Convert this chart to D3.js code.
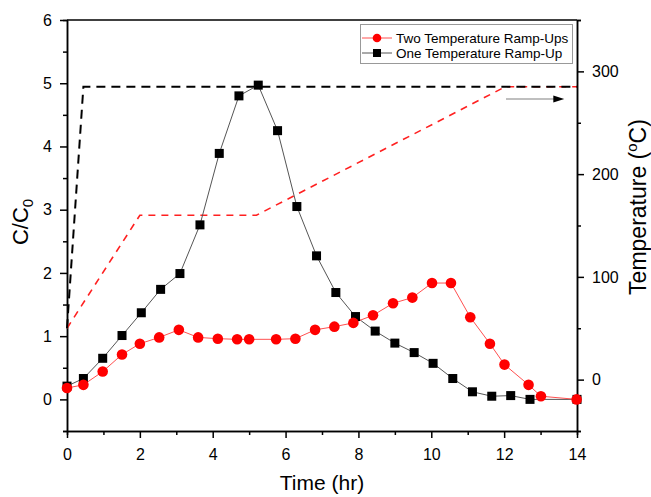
<!DOCTYPE html>
<html>
<head>
<meta charset="utf-8">
<script src="https://cdn.jsdelivr.net/npm/d3@7"></script>
<style>
body { margin: 0; background: #fff; }
svg { display: block; font-family: "Liberation Sans", Arial, sans-serif; }
</style>
</head>
<body>
<svg id="chart" width="651" height="497"></svg>
<script>
// Data
const twoRampTime = [0, 0.45, 0.98, 1.51, 2.0, 2.53, 3.07, 3.6, 4.14, 4.67, 5.0, 5.74, 6.27, 6.81, 7.34, 7.86, 8.4, 8.95, 9.48, 10.02, 10.54, 11.07, 11.61, 12.01, 12.67, 13.01, 13.99];
const twoRampC = [0.18, 0.23, 0.44, 0.71, 0.88, 0.98, 1.10, 0.98, 0.96, 0.95, 0.95, 0.95, 0.96, 1.10, 1.15, 1.21, 1.33, 1.52, 1.61, 1.84, 1.84, 1.30, 0.88, 0.55, 0.23, 0.05, 0.0];
const oneRampTime = [0, 0.45, 0.98, 1.51, 2.04, 2.57, 3.10, 3.65, 4.18, 4.72, 5.25, 5.78, 6.31, 6.85, 7.38, 7.92, 8.46, 9.0, 9.53, 10.05, 10.59, 11.13, 11.66, 12.18, 12.71, 14.0];
const oneRampC = [0.21, 0.33, 0.65, 1.01, 1.37, 1.74, 1.99, 2.76, 3.89, 4.80, 4.97, 4.25, 3.05, 2.27, 1.69, 1.31, 1.08, 0.89, 0.74, 0.57, 0.33, 0.12, 0.05, 0.06, 0.0, 0.0];
const twoRampTempTime = [0, 2.0, 5.2, 12.03, 14];
const twoRampTemp = [50, 160, 160, 285, 285];
const oneRampTempTime = [0, 0.45, 14];
const oneRampTemp = [50, 285, 285];
const xTicks = [0, 2, 4, 6, 8, 10, 12, 14];
const yTicks = [0, 1, 2, 3, 4, 5, 6];
const y2Ticks = [0, 100, 200, 300];
const seriesNames = ["Two Temperature Ramp-Ups", "One Temperature Ramp-Up"];

const svg = d3.select("#chart");
const L = 67, R = 577, T = 20, B = 431;

const x = d3.scaleLinear().domain([0, 14]).range([L, R]);
const y = d3.scaleLinear().domain([-0.5, 6]).range([B, T]);
const y2 = d3.scaleLinear().domain([-50, 350]).range([B, T]);

// Frame top
svg.append("line").attr("x1", L).attr("x2", R).attr("y1", T).attr("y2", T)
  .attr("stroke", "#000").attr("stroke-width", 1.5);

function styleAxis(g) {
  g.selectAll("path.domain").attr("stroke", "#000").attr("stroke-width", 1.5);
  g.selectAll(".tick line").attr("stroke", "#000").attr("stroke-width", 1.5);
  g.selectAll("text").attr("font-size", "16px").attr("fill", "#000").attr("font-family", "Liberation Sans, Arial, sans-serif");
}
const gxMinor = svg.append("g").attr("transform", `translate(0,${B})`)
  .call(d3.axisBottom(x).tickValues(d3.range(1, 14, 2)).tickSize(4).tickFormat(""));
styleAxis(gxMinor);
const gx = svg.append("g").attr("transform", `translate(0,${B})`)
  .call(d3.axisBottom(x).tickValues(xTicks).tickSize(7).tickSizeOuter(0).tickPadding(11).tickFormat(d3.format("d")));
styleAxis(gx);

const gyMinor = svg.append("g").attr("transform", `translate(${L},0)`)
  .call(d3.axisLeft(y).tickValues([-0.5, 0.5, 1.5, 2.5, 3.5, 4.5, 5.5]).tickSize(4).tickFormat(""));
styleAxis(gyMinor);
const gy = svg.append("g").attr("transform", `translate(${L},0)`)
  .call(d3.axisLeft(y).tickValues(yTicks).tickSize(7).tickSizeOuter(0).tickPadding(8).tickFormat(d3.format("d")));
styleAxis(gy);

const gy2Minor = svg.append("g").attr("transform", `translate(${R},0)`)
  .call(d3.axisRight(y2).tickValues([-50, 50, 150, 250, 350]).tickSize(4).tickFormat(""));
styleAxis(gy2Minor);
const gy2 = svg.append("g").attr("transform", `translate(${R},0)`)
  .call(d3.axisRight(y2).tickValues(y2Ticks).tickSize(7).tickSizeOuter(0).tickPadding(8).tickFormat(d3.format("d")));
styleAxis(gy2);

// Axis titles
svg.append("text").attr("x", (L + R) / 2).attr("y", 490).attr("text-anchor", "middle")
  .attr("font-size", "21px").text("Time (hr)");
const ct = svg.append("text").attr("transform", "translate(28,222) rotate(-90)")
  .attr("text-anchor", "middle").attr("font-size", "22px");
ct.append("tspan").text("C/C");
ct.append("tspan").attr("font-size", "15px").attr("dy", 5).text("0");
const tt = svg.append("text").attr("transform", "translate(646,207) rotate(-90)")
  .attr("text-anchor", "middle").attr("font-size", "23px");
tt.append("tspan").text("Temperature (");
tt.append("tspan").attr("font-size", "15px").attr("dy", -9).text("o");
tt.append("tspan").attr("dy", 9).text("C)");

// Temperature dashed lines
const tempLine = d3.line().x(d => x(d[0])).y(d => y2(d[1]));
svg.append("path").datum(d3.zip(twoRampTempTime, twoRampTemp)).attr("d", tempLine)
  .attr("fill", "none").attr("stroke", "#ff2020").attr("stroke-width", 1.6).attr("stroke-dasharray", "7,6");
svg.append("path").datum(d3.zip(oneRampTempTime, oneRampTemp)).attr("d", tempLine)
  .attr("fill", "none").attr("stroke", "#000").attr("stroke-width", 2).attr("stroke-dasharray", "9,6");

// Arrow pointing to right axis
svg.append("line").attr("x1", x(12.05)).attr("x2", x(13.45)).attr("y1", y2(273)).attr("y2", y2(273))
  .attr("stroke", "#aaa").attr("stroke-width", 1.5);
svg.append("path")
  .attr("d", `M${x(13.35)},${y2(273) - 3.5} L${x(13.65)},${y2(273)} L${x(13.35)},${y2(273) + 3.5} Z`)
  .attr("fill", "#000");

// Concentration series
const cLine = d3.line().x(d => x(d[0])).y(d => y(d[1]));
const oneData = d3.zip(oneRampTime, oneRampC);
const twoData = d3.zip(twoRampTime, twoRampC);
svg.append("path").datum(oneData).attr("d", cLine).attr("fill", "none").attr("stroke", "#555").attr("stroke-width", 1);
svg.append("path").datum(twoData).attr("d", cLine).attr("fill", "none").attr("stroke", "#ff5050").attr("stroke-width", 1);
svg.append("g").selectAll("rect").data(oneData).join("rect")
  .attr("x", d => x(d[0]) - 4.5).attr("y", d => y(d[1]) - 4.5).attr("width", 9).attr("height", 9).attr("fill", "#000");
svg.append("g").selectAll("circle").data(twoData).join("circle")
  .attr("cx", d => x(d[0])).attr("cy", d => y(d[1])).attr("r", 5.3).attr("fill", "#ff0000");

// Legend
const lg = svg.append("g");
lg.append("rect").attr("x", 360.5).attr("y", 24.5).attr("width", 212).attr("height", 39)
  .attr("fill", "#fff").attr("stroke", "#999").attr("stroke-width", 1);
const legendRows = [
  { name: seriesNames[0], color: "#ff5050", shape: "circle", yy: 38 },
  { name: seriesNames[1], color: "#555", shape: "square", yy: 53 }
];
legendRows.forEach(r => {
  lg.append("line").attr("x1", 362).attr("x2", 392).attr("y1", r.yy).attr("y2", r.yy)
    .attr("stroke", r.color).attr("stroke-width", 1);
  if (r.shape === "circle") {
    lg.append("circle").attr("cx", 377).attr("cy", r.yy).attr("r", 4.3).attr("fill", "#ff0000");
  } else {
    lg.append("rect").attr("x", 373).attr("y", r.yy - 4).attr("width", 8).attr("height", 8).attr("fill", "#000");
  }
  lg.append("text").attr("x", 396).attr("y", r.yy + 5).attr("font-size", "13.5px").text(r.name);
});
</script>
</body>
</html>
